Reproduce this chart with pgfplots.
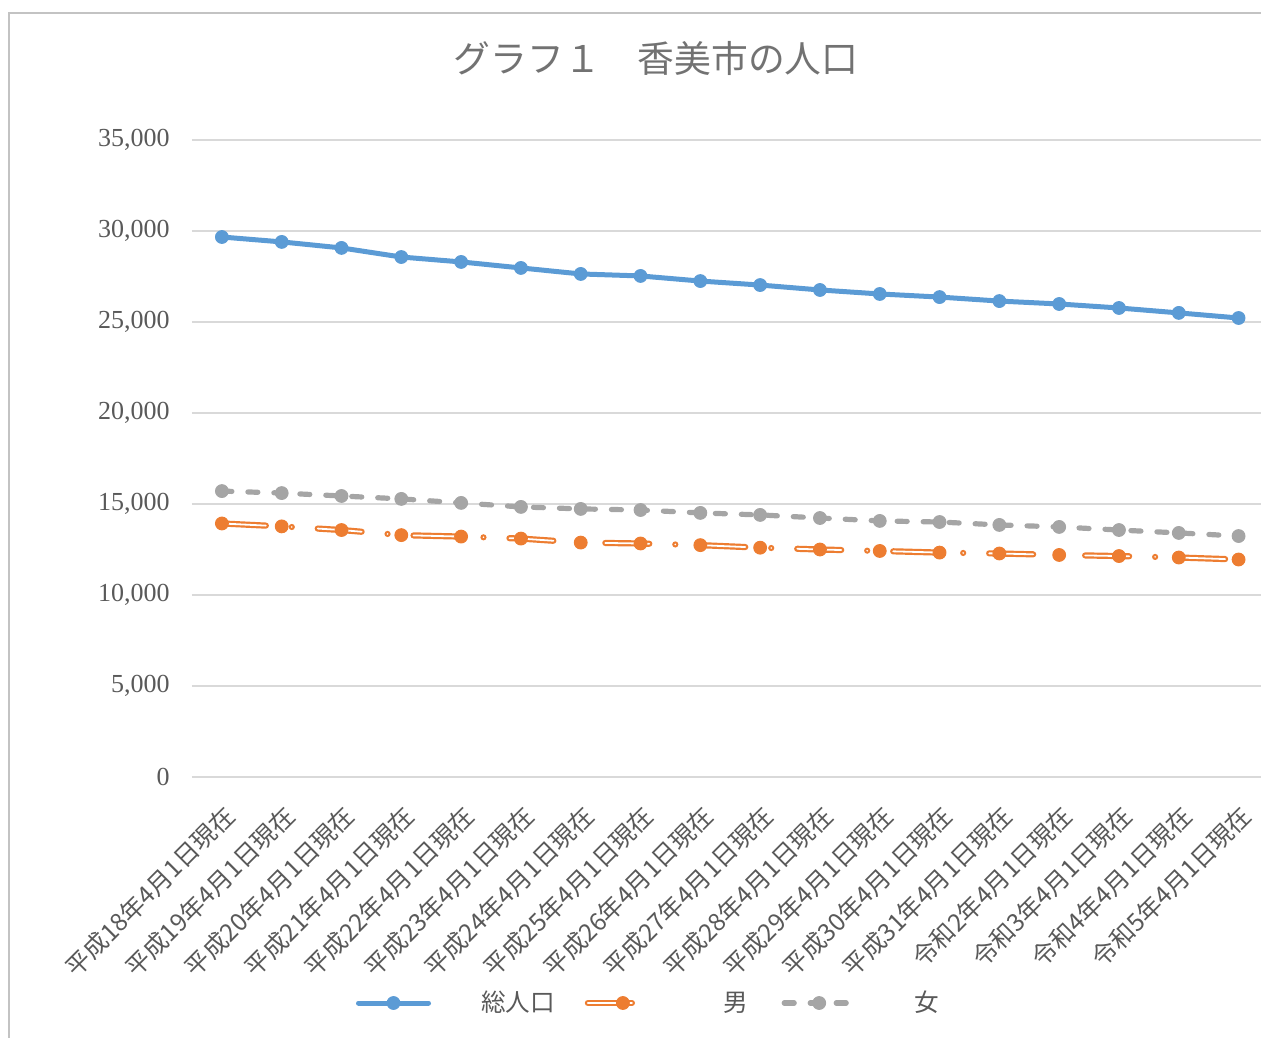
\documentclass[border=0pt]{standalone}
\usepackage{fontspec}
\setmainfont{Liberation Serif}
\newfontfamily\jp{Noto Sans CJK JP}
\usepackage{pgfplots}
\usepackage{pgfplotstable}
\pgfplotsset{compat=1.18}

\definecolor{xblue}{HTML}{5B9BD5}
\definecolor{xorange}{HTML}{ED7D31}
\definecolor{xgray}{HTML}{A5A5A5}
\definecolor{xgrid}{HTML}{D9D9D9}
\definecolor{xtext}{HTML}{595959}

% 人口（人）
\pgfplotstableread{
idx total male female
0  29670 13930 15710
1  29400 13770 15600
2  29070 13570 15440
3  28570 13290 15280
4  28300 13210 15060
5  27970 13100 14840
6  27640 12880 14730
7  27530 12830 14670
8  27250 12740 14510
9  27030 12600 14400
10 26760 12500 14230
11 26540 12420 14070
12 26370 12330 14010
13 26150 12280 13850
14 25990 12200 13740
15 25770 12140 13570
16 25500 12060 13410
17 25220 11950 13240
}\pop

\begin{document}
\begin{tikzpicture}
\begin{axis}[
  width=534.5pt, height=318.5pt, scale only axis,
  xmin=-0.5, xmax=17.375, ymin=0, ymax=35000,
  xtick={0,...,17},
  xticklabels={平成18年4月1日現在,平成19年4月1日現在,平成20年4月1日現在,平成21年4月1日現在,
    平成22年4月1日現在,平成23年4月1日現在,平成24年4月1日現在,平成25年4月1日現在,
    平成26年4月1日現在,平成27年4月1日現在,平成28年4月1日現在,平成29年4月1日現在,
    平成30年4月1日現在,平成31年4月1日現在,令和2年4月1日現在,令和3年4月1日現在,
    令和4年4月1日現在,令和5年4月1日現在},
  ytick={0,5000,...,35000},
  scaled y ticks=false,
  ymajorgrids, grid style={xgrid, line width=1pt},
  axis line style={draw=none},
  major tick length=0pt,
  yticklabel style={/pgf/number format/.cd, fixed, 1000 sep={,}, assume math mode=true, /tikz/.cd,
    font=\fontsize{13}{15}\selectfont, text=xtext, anchor=east, inner sep=0pt, xshift=-11pt},
  xticklabel style={font=\jp\fontsize{12.3}{14}\selectfont, text=xtext, rotate=45, anchor=east, inner sep=0pt, xshift=-9pt, yshift=-15pt},
  title={グラフ１　香美市の人口},
  title style={font=\jp\fontsize{18.4}{20}\selectfont, text=xtext!85, at={(0,1)}, anchor=center, xshift=232pt, yshift=35pt},
  legend columns=-1,
  legend image code/.code={\draw[mark repeat=2,mark phase=2,#1] plot coordinates {(0pt,0pt) (17.5pt,0pt) (35pt,0pt)};},
  legend style={draw=none, fill=none, inner sep=0pt, outer sep=0pt, at={(0,0)}, anchor=west, xshift=82pt, yshift=-113pt,
    font=\jp\fontsize{12.3}{14}\selectfont, text=xtext, nodes={inner sep=0pt},
    /tikz/every even column/.append style={column sep=15pt}},
]
\coordinate (bl) at (rel axis cs:0,0);
\coordinate (tr) at (rel axis cs:1,1);

\addplot[xblue, line width=2.5pt, line cap=round, line join=round, mark=*, mark size=3.2pt,
  mark options={fill=xblue, draw=xblue, line width=0.5pt}] table[x=idx, y=total] {\pop};
\addlegendentry{\hspace*{25pt}総人口}

\addplot[xorange, line width=1.1pt, double=white, double distance=0.9pt, line cap=round,
  dash pattern=on 22pt off 13pt on 0pt off 13pt, mark=*, mark size=3.2pt,
  mark options={solid, fill=xorange, draw=xorange, line width=0.5pt}] table[x=idx, y=male] {\pop};
\addlegendentry{\hspace*{31pt}男\hspace*{2pt}}

\addplot[xgray, line width=2.6pt, line cap=round, dash pattern=on 5pt off 8pt, mark=*, mark size=3.2pt,
  mark options={solid, fill=xgray, draw=xgray, line width=0.5pt}] table[x=idx, y=female] {\pop};
\addlegendentry{\hspace*{29pt}女}
\end{axis}
\draw[xgrid!90!black, line width=1pt] ([shift={(5pt,-135pt)}]tr |- bl) -- ([shift={(-91.5pt,-135pt)}]bl) -- ([shift={(-91.5pt,63.5pt)}]bl |- tr) -- ([shift={(5pt,63.5pt)}]tr);
\pgfresetboundingbox
\path[use as bounding box] ([shift={(-96pt,-130pt)}]bl) rectangle ([shift={(0pt,70pt)}]tr);
\end{tikzpicture}
\end{document}
